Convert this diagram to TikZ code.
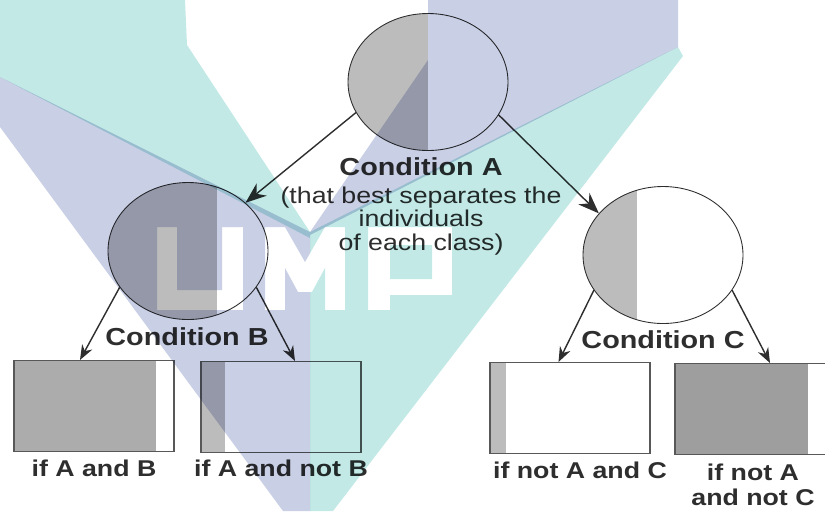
\documentclass[tikz,border=0pt]{standalone}
\usepackage{fontspec}
\newfontfamily\figfont[FakeStretch=1.17]{Liberation Sans}
\usetikzlibrary{shapes.geometric,arrows.meta,calc}
\definecolor{ink}{HTML}{2E2E2E}
\definecolor{pale}{HTML}{BCBCBC}
\definecolor{mid}{HTML}{ACACAC}
\definecolor{deep}{HTML}{9E9E9E}
\definecolor{lilac}{HTML}{C9CFE5}
\definecolor{aqua}{HTML}{C2E9E6}
\tikzset{
  graypart/.style 2 args = {path picture={\fill[#1] (path picture bounding box.south west) rectangle
      ($(path picture bounding box.north west)!#2!(path picture bounding box.north east)$);}},
  test/.style     = {ellipse, draw=ink, line width=0.5pt, fill=white, minimum width=32mm, minimum height=27.4mm, inner sep=0},
  leaf/.style     = {rectangle, draw=ink!80, line width=0.6pt, fill=white, minimum width=32mm, minimum height=18.2mm, inner sep=0},
  cond/.style     = {font=\figfont\bfseries\fontsize{14}{16}\selectfont, text=ink},
  note/.style     = {font=\figfont\fontsize{13}{13.2}\selectfont, text=ink, align=center},
  result/.style   = {font=\figfont\bfseries\fontsize{13}{14.2}\selectfont, text=ink, align=center},
  link/.style     = {draw=ink, line width=0.8pt},
  tipbig/.style   = {-{Stealth[length=4.2mm, width=3.2mm]}},
  tipsmall/.style = {-{Stealth[length=3mm, width=2.3mm]}},
  % letters cut out of the logo bands
  umpmarks/.style = {insert path={
      (157,227) -- (177,227) -- (177,290) -- (222,290) -- (222,227) -- (243,227) -- (243,310) -- (157,310) -- cycle
      (265,310) -- (265,227) -- (285,227) -- (305,262) -- (325,227) -- (345,227) -- (345,310) -- (325,310)
        -- (325,268) -- (312,292) -- (298,292) -- (285,268) -- (285,310) -- cycle
      (368,310) -- (368,227) -- (452,227) -- (452,295) -- (390,295) -- (390,310) -- cycle
      (390,245) rectangle (432,279)}}
}

\begin{document}
\begin{tikzpicture}[x=0.2mm, y=-0.2mm]
  \useasboundingbox (0,0) rectangle (825,511);
  % split nodes
  \node[test, graypart={pale}{0.5}]  (root) at (428,82)  {};
  \node[test, graypart={pale}{0.68}] (nB)   at (188,251) {};
  \node[test, graypart={pale}{0.34}] (nC)   at (663,255) {};
  % leaves
  \node[leaf, graypart={mid}{0.89}]   (bAB)   at (94,406)  {};
  \node[leaf, graypart={pale}{0.15}]  (bAnB)  at (281,407) {};
  \node[leaf, graypart={pale}{0.10}]  (bnAC)  at (570,408) {};
  \node[leaf, graypart={deep}{0.83}]  (bnAnC) at (755,409) {};
  % texts
  \node[cond] (cA) at (421,167) {Condition A};
  \node[note] (why) at (421,221) {(that best separates the\\individuals\\of each class)};
  \node[cond] (cB) at (187,337) {Condition B};
  \node[cond] (cC) at (663,340) {Condition C};
  \node[result] (lAB)   at (94,468)  {if A and B};
  \node[result] (lAnB)  at (281,468) {if A and not B};
  \node[result] (lnAC)  at (580,470) {if not A and C};
  \node[result] (lnAnC) at (753,485) {if not A\\and not C};
  % arrows
  \draw[link, tipbig] (root.203) -- (nB.40);
  \draw[link, tipbig] (root.335) -- (nC.147);
  \draw[link, tipsmall] (nB.208) -- ([xshift=-2.8mm]bAB.north);
  \draw[link, tipsmall] (nB.332) -- ([xshift=2.8mm]bAnB.north);
  \draw[link, tipsmall] (nC.207) -- ([xshift=-2.3mm]bnAC.north);
  \draw[link, tipsmall] (nC.333) -- ([xshift=3mm]bnAnC.north);
  % logo overlay, tinting what lies below
  \begin{scope}[blend mode=multiply]
    \begin{scope}
      \clip (0,77) -- (0,127) -- (283,511) -- (310,511) -- (310,235) -- (678,47) -- (678,0)
        -- (428,0) -- (428,60) -- (310,232) -- cycle;
      \fill[lilac, even odd rule] (0,0) rectangle (825,511) [umpmarks];
    \end{scope}
    \begin{scope}
      \clip (0,0) -- (185,0) -- (187,45) -- (310,232) -- (678,47) -- (683,56) -- (333,511)
        -- (310,511) -- (310,238) -- (0,77) -- cycle;
      \fill[aqua, even odd rule] (0,0) rectangle (825,511) [umpmarks];
    \end{scope}
  \end{scope}
\end{tikzpicture}
\end{document}
